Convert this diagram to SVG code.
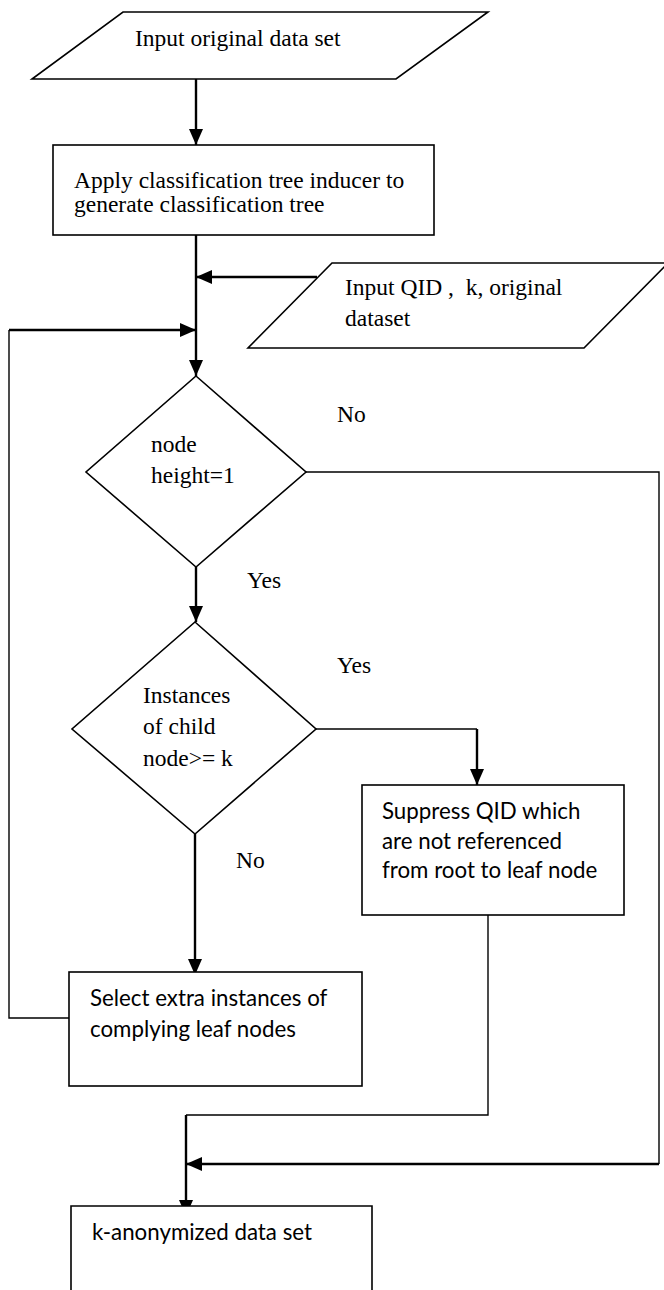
<svg xmlns="http://www.w3.org/2000/svg" width="664" height="1290" viewBox="0 0 664 1290">
<style>
.bg{fill:#fff}
.shape{fill:#fff;stroke:#000;stroke-width:1.6}
.thin{fill:none;stroke:#000;stroke-width:1.4}
.thick{fill:none;stroke:#000;stroke-width:2.4}
.serif{font-family:"Liberation Serif","Times New Roman",serif;font-size:23.5px;fill:#000}
.sans{font-family:Lato,"Noto Sans",sans-serif;font-size:22.3px;fill:#000}
</style>
<defs>
<marker id="ah" viewBox="0 0 16 14" refX="16" refY="7" markerWidth="16" markerHeight="14" markerUnits="userSpaceOnUse" orient="auto">
<path d="M0,0 L16,7 L0,14 Z" fill="#000"/>
</marker>
</defs>
<rect class="bg" x="0" y="0" width="664" height="1290"/>

<g id="connectors">
<path class="thick" d="M196,79 V145" marker-end="url(#ah)"/>
<path class="thick" d="M196,235 V376" marker-end="url(#ah)"/>
<path class="thick" d="M317,277 H196" marker-end="url(#ah)"/>
<path class="thin" d="M69,1018 H9 V330"/>
<path class="thick" d="M9,330 H196" marker-end="url(#ah)"/>
<path class="thin" d="M306,472 H659 V1164"/>
<path class="thick" d="M659,1164 H186" marker-end="url(#ah)"/>
<path class="thick" d="M196,567 V622" marker-end="url(#ah)"/>
<path class="thin" d="M316,729 H477"/>
<path class="thick" d="M477,729 V785" marker-end="url(#ah)"/>
<path class="thick" d="M195,834 V975" marker-end="url(#ah)"/>
<path class="thin" d="M488,915 V1115 H186"/>
<path class="thick" d="M186,1115 V1216" marker-end="url(#ah)"/>
<text class="serif" x="337" y="422">No</text>
<text class="serif" x="247" y="588">Yes</text>
<text class="serif" x="337" y="673">Yes</text>
<text class="serif" x="236" y="868">No</text>
</g>

<g id="input-data">
<polygon class="shape" points="123,12 488,12 396,79 32,79"/>
<text class="serif" x="135" y="46">Input original data set</text>
</g>

<g id="apply-inducer">
<rect class="shape" x="53" y="145" width="381" height="90"/>
<text class="serif" x="74" y="188">Apply classification tree inducer to</text>
<text class="serif" x="74" y="212">generate classification tree</text>
</g>

<g id="input-qid">
<polygon class="shape" points="332,263 668,263 584,348 248,348"/>
<text class="serif" x="345" y="295" xml:space="preserve">Input QID ,  k, original</text>
<text class="serif" x="345" y="326">dataset</text>
</g>

<g id="decision-height">
<polygon class="shape" points="196,376 306,472 196,567 86,472"/>
<text class="serif" x="151" y="452">node</text>
<text class="serif" x="151" y="483">height=1</text>
</g>

<g id="decision-instances">
<polygon class="shape" points="195,622 316,729 195,834 72,729"/>
<text class="serif" x="143" y="703">Instances</text>
<text class="serif" x="143" y="734">of child</text>
<text class="serif" x="143" y="766">node&gt;= k</text>
</g>

<g id="suppress-qid">
<rect class="shape" x="362" y="785" width="262" height="130"/>
<text class="sans" x="382" y="819">Suppress QID which</text>
<text class="sans" x="382" y="849">are not referenced</text>
<text class="sans" x="382" y="878">from root to leaf node</text>
</g>

<g id="select-extra">
<rect class="shape" x="69" y="972" width="293" height="114"/>
<text class="sans" x="90" y="1006">Select extra instances of</text>
<text class="sans" x="90" y="1037">complying leaf nodes</text>
</g>

<g id="k-anonymized">
<path class="shape" d="M71,1292 V1206 H372 V1292"/>
<text class="sans" x="92" y="1240">k-anonymized data set</text>
</g>
</svg>
